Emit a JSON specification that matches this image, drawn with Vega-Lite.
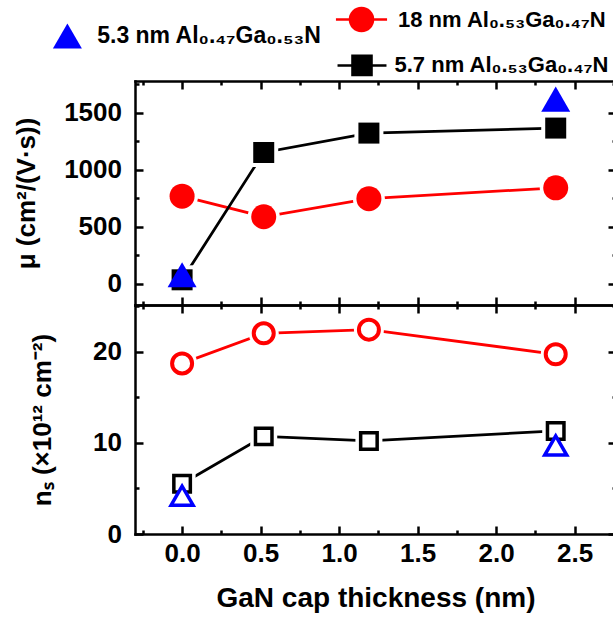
{
  "$schema": "https://vega.github.io/schema/vega-lite/v6.json",
  "background": "white",
  "padding": {"left": 13, "top": 0, "right": 0, "bottom": 4},
  "spacing": 0,
  "bounds": "flush",
  "data": {
    "values": [
      {"panel": "mu", "series": "18 nm Al₀.₅₃Ga₀.₄₇N", "x": 0, "y": 770},
      {"panel": "mu", "series": "18 nm Al₀.₅₃Ga₀.₄₇N", "x": 0.52, "y": 589},
      {"panel": "mu", "series": "18 nm Al₀.₅₃Ga₀.₄₇N", "x": 1.19, "y": 748},
      {"panel": "mu", "series": "18 nm Al₀.₅₃Ga₀.₄₇N", "x": 2.38, "y": 843},
      {"panel": "mu", "series": "5.7 nm Al₀.₅₃Ga₀.₄₇N", "x": 0, "y": 36},
      {"panel": "mu", "series": "5.7 nm Al₀.₅₃Ga₀.₄₇N", "x": 0.52, "y": 1153},
      {"panel": "mu", "series": "5.7 nm Al₀.₅₃Ga₀.₄₇N", "x": 1.19, "y": 1323},
      {"panel": "mu", "series": "5.7 nm Al₀.₅₃Ga₀.₄₇N", "x": 2.38, "y": 1367},
      {"panel": "mu", "series": "5.3 nm Al₀.₄₇Ga₀.₅₃N", "x": 0, "y": 80},
      {"panel": "mu", "series": "5.3 nm Al₀.₄₇Ga₀.₅₃N", "x": 2.38, "y": 1621},
      {"panel": "ns", "series": "18 nm Al₀.₅₃Ga₀.₄₇N", "x": 0, "y": 18.7},
      {"panel": "ns", "series": "18 nm Al₀.₅₃Ga₀.₄₇N", "x": 0.52, "y": 22.0},
      {"panel": "ns", "series": "18 nm Al₀.₅₃Ga₀.₄₇N", "x": 1.19, "y": 22.4},
      {"panel": "ns", "series": "18 nm Al₀.₅₃Ga₀.₄₇N", "x": 2.38, "y": 19.7},
      {"panel": "ns", "series": "5.7 nm Al₀.₅₃Ga₀.₄₇N", "x": 0, "y": 5.5},
      {"panel": "ns", "series": "5.7 nm Al₀.₅₃Ga₀.₄₇N", "x": 0.52, "y": 10.7},
      {"panel": "ns", "series": "5.7 nm Al₀.₅₃Ga₀.₄₇N", "x": 1.19, "y": 10.2},
      {"panel": "ns", "series": "5.7 nm Al₀.₅₃Ga₀.₄₇N", "x": 2.38, "y": 11.3},
      {"panel": "ns", "series": "5.3 nm Al₀.₄₇Ga₀.₅₃N", "x": 0, "y": 4.2},
      {"panel": "ns", "series": "5.3 nm Al₀.₄₇Ga₀.₅₃N", "x": 2.38, "y": 9.7}
    ]
  },
  "vconcat": [
    {
      "width": 481,
      "height": 224,
      "transform": [{"filter": "datum.panel === 'mu'"}],
      "layer": [
        {
          "transform": [{"filter": "indexof(datum.series, '18 nm') === 0"}],
          "mark": {"type": "line", "color": "#ff0000", "strokeWidth": 2.8},
          "encoding": {
            "x": {"field": "x", "type": "quantitative",
              "scale": {"domain": [-0.3, 2.764], "nice": false, "zero": false},
              "axis": {"orient": "bottom", "title": null, "labels": false,
                "values": [-0.25, 0, 0.25, 0.5, 0.75, 1, 1.25, 1.5, 1.75, 2, 2.25, 2.5, 2.75],
                "tickSize": {"condition": {"test": "datum.value % 0.5 === 0", "value": -8}, "value": -4}}},
            "y": {"field": "y", "type": "quantitative",
              "scale": {"domain": [-185, 1780], "nice": false, "zero": false},
              "axis": {"orient": "left", "title": "μ (cm²/(V·s))",
                "values": [0, 250, 500, 750, 1000, 1250, 1500, 1750],
                "labelExpr": "datum.value % 500 === 0 ? format(datum.value, 'd') : ''",
                "tickSize": {"condition": {"test": "datum.value % 500 === 0", "value": -8}, "value": -4},
                "labelPadding": 21.5, "titlePadding": 23.5, "minExtent": 72, "maxExtent": 72}}
          }
        },
        {
          "transform": [{"filter": "indexof(datum.series, '5.7 nm') === 0"}],
          "mark": {"type": "line", "color": "#000000", "strokeWidth": 2.8},
          "encoding": {
            "x": {"field": "x", "type": "quantitative", "axis": null},
            "y": {"field": "y", "type": "quantitative", "axis": null}
          }
        },
        {
          "transform": [{"filter": "indexof(datum.series, '18 nm') === 0"}],
          "mark": {"type": "point", "shape": "circle", "size": 1024, "filled": true, "color": "white", "strokeWidth": 0, "opacity": 1},
          "encoding": {
            "x": {"field": "x", "type": "quantitative", "axis": null},
            "y": {"field": "y", "type": "quantitative", "axis": null}
          }
        },
        {
          "transform": [{"filter": "indexof(datum.series, '5.7 nm') === 0"}],
          "mark": {"type": "point", "shape": "square", "size": 841, "filled": true, "color": "white", "strokeWidth": 0, "opacity": 1},
          "encoding": {
            "x": {"field": "x", "type": "quantitative", "axis": null},
            "y": {"field": "y", "type": "quantitative", "axis": null}
          }
        },
        {
          "transform": [{"filter": "indexof(datum.series, '18 nm') === 0"}],
          "mark": {"type": "point", "shape": "circle", "size": 625, "filled": true, "strokeWidth": 0, "opacity": 1},
          "encoding": {
            "x": {"field": "x", "type": "quantitative", "axis": null},
            "y": {"field": "y", "type": "quantitative", "axis": null},
            "color": {"field": "series", "type": "nominal",
              "scale": {"domain": ["18 nm Al₀.₅₃Ga₀.₄₇N"], "range": ["#ff0000"]},
              "legend": {"orient": "none", "legendX": 207, "legendY": -81, "title": null, "padding": 0,
                "symbolType": "M-1.42,0L-0.64,0M0.64,0L1.42,0M-0.64,0A0.64,0.64,0,1,1,0.64,0A0.64,0.64,0,1,1,-0.64,0Z",
                "symbolSize": 1296, "symbolFillColor": "#ff0000", "symbolStrokeColor": "#ff0000", "symbolStrokeWidth": 2.5, "symbolOpacity": 1,
                "labelOffset": 17, "labelFont": "Liberation Sans", "labelFontSize": 22, "labelFontWeight": "bold", "labelColor": "#000000", "labelLimit": 400}}
          }
        },
        {
          "transform": [{"filter": "indexof(datum.series, '5.7 nm') === 0"}],
          "mark": {"type": "point", "shape": "square", "size": 441, "filled": true, "strokeWidth": 0, "opacity": 1},
          "encoding": {
            "x": {"field": "x", "type": "quantitative", "axis": null},
            "y": {"field": "y", "type": "quantitative", "axis": null},
            "color": {"field": "series", "type": "nominal",
              "scale": {"domain": ["5.7 nm Al₀.₅₃Ga₀.₄₇N"], "range": ["#000000"]},
              "legend": {"orient": "none", "legendX": 207.5, "legendY": -35.1, "title": null, "padding": 0,
                "symbolType": "M-1.36,0L-0.53,0M0.53,0L1.36,0M-0.53,-0.53L0.53,-0.53L0.53,0.53L-0.53,0.53Z",
                "symbolSize": 1296, "symbolFillColor": "#000000", "symbolStrokeColor": "#000000", "symbolStrokeWidth": 2.5, "symbolOpacity": 1,
                "labelOffset": 13, "labelFont": "Liberation Sans", "labelFontSize": 22, "labelFontWeight": "bold", "labelColor": "#000000", "labelLimit": 400}}
          }
        },
        {
          "transform": [{"filter": "indexof(datum.series, '5.3 nm') === 0"}],
          "mark": {"type": "point", "shape": "triangle-up", "size": 841, "filled": true, "strokeWidth": 0, "opacity": 1},
          "encoding": {
            "x": {"field": "x", "type": "quantitative",
              "axis": {"orient": "top", "title": null, "labels": false,
                "values": [-0.25, 0, 0.25, 0.5, 0.75, 1, 1.25, 1.5, 1.75, 2, 2.25, 2.5, 2.75],
                "tickSize": {"condition": {"test": "datum.value % 0.5 === 0", "value": -8}, "value": -4}}},
            "y": {"field": "y", "type": "quantitative",
              "axis": {"orient": "right", "title": null, "labels": false, "domain": false,
                "values": [0, 250, 500, 750, 1000, 1250, 1500, 1750],
                "tickSize": {"condition": {"test": "datum.value % 500 === 0", "value": -8}, "value": -4}}},
            "color": {"field": "series", "type": "nominal",
              "scale": {"domain": ["5.3 nm Al₀.₄₇Ga₀.₅₃N"], "range": ["#0000ff"]},
              "legend": {"orient": "none", "legendX": -82.1, "legendY": -59.5, "title": null, "padding": 0,
                "symbolType": "triangle-up", "symbolSize": 841, "symbolStrokeWidth": 0, "symbolOpacity": 1, "labelOffset": 15.3,
                "labelFont": "Liberation Sans", "labelFontSize": 23, "labelFontWeight": "bold", "labelColor": "#000000", "labelLimit": 400}}
          }
        }
      ],
      "resolve": {
        "scale": {"color": "independent"},
        "axis": {"x": "independent", "y": "independent"}
      }
    },
    {
      "width": 481,
      "height": 229,
      "transform": [{"filter": "datum.panel === 'ns'"}],
      "layer": [
        {
          "transform": [{"filter": "indexof(datum.series, '18 nm') === 0"}],
          "mark": {"type": "line", "color": "#ff0000", "strokeWidth": 2.8},
          "encoding": {
            "x": {"field": "x", "type": "quantitative",
              "scale": {"domain": [-0.3, 2.764], "nice": false, "zero": false},
              "axis": {"orient": "bottom", "title": "GaN cap thickness (nm)",
                "values": [-0.25, 0, 0.25, 0.5, 0.75, 1, 1.25, 1.5, 1.75, 2, 2.25, 2.5, 2.75],
                "labelExpr": "datum.value % 0.5 === 0 ? format(datum.value, '.1f') : ''",
                "tickSize": {"condition": {"test": "datum.value % 0.5 === 0", "value": -8}, "value": -4},
                "labelPadding": 14.5, "titlePadding": 14, "titleFontSize": 28}},
            "y": {"field": "y", "type": "quantitative",
              "scale": {"domain": [0, 25.1], "nice": false, "zero": false},
              "axis": {"orient": "left", "title": "nₛ (×10¹² cm⁻²)",
                "values": [0, 5, 10, 15, 20, 25],
                "labelExpr": "datum.value % 10 === 0 ? format(datum.value, 'd') : ''",
                "tickSize": {"condition": {"test": "datum.value % 10 === 0", "value": -8}, "value": -4},
                "labelPadding": 21.5, "titlePadding": 8, "minExtent": 72, "maxExtent": 72}}
          }
        },
        {
          "transform": [{"filter": "indexof(datum.series, '5.7 nm') === 0"}],
          "mark": {"type": "line", "color": "#000000", "strokeWidth": 2.8},
          "encoding": {
            "x": {"field": "x", "type": "quantitative", "axis": null},
            "y": {"field": "y", "type": "quantitative", "axis": null}
          }
        },
        {
          "transform": [{"filter": "indexof(datum.series, '18 nm') === 0"}],
          "mark": {"type": "point", "shape": "circle", "size": 900, "filled": true, "color": "white", "strokeWidth": 0, "opacity": 1},
          "encoding": {
            "x": {"field": "x", "type": "quantitative", "axis": null},
            "y": {"field": "y", "type": "quantitative", "axis": null}
          }
        },
        {
          "transform": [{"filter": "indexof(datum.series, '5.7 nm') === 0"}],
          "mark": {"type": "point", "shape": "square", "size": 729, "filled": true, "color": "white", "strokeWidth": 0, "opacity": 1},
          "encoding": {
            "x": {"field": "x", "type": "quantitative", "axis": null},
            "y": {"field": "y", "type": "quantitative", "axis": null}
          }
        },
        {
          "transform": [{"filter": "indexof(datum.series, '18 nm') === 0"}],
          "mark": {"type": "point", "shape": "circle", "size": 400, "fill": "white", "stroke": "#ff0000", "strokeWidth": 4, "opacity": 1},
          "encoding": {
            "x": {"field": "x", "type": "quantitative", "axis": null},
            "y": {"field": "y", "type": "quantitative", "axis": null}
          }
        },
        {
          "transform": [{"filter": "indexof(datum.series, '5.7 nm') === 0"}],
          "mark": {"type": "point", "shape": "square", "size": 272, "fill": "white", "stroke": "#000000", "strokeWidth": 3.5, "opacity": 1},
          "encoding": {
            "x": {"field": "x", "type": "quantitative", "axis": null},
            "y": {"field": "y", "type": "quantitative", "axis": null}
          }
        },
        {
          "transform": [{"filter": "indexof(datum.series, '5.3 nm') === 0"}],
          "mark": {"type": "point", "shape": "triangle-up", "size": 484, "fill": "white", "stroke": "#0000ff", "strokeWidth": 3.5, "opacity": 1},
          "encoding": {
            "x": {"field": "x", "type": "quantitative",
              "axis": {"orient": "top", "title": null, "labels": false,
                "values": [-0.25, 0, 0.25, 0.5, 0.75, 1, 1.25, 1.5, 1.75, 2, 2.25, 2.5, 2.75],
                "tickSize": {"condition": {"test": "datum.value % 0.5 === 0", "value": -8}, "value": -4}}},
            "y": {"field": "y", "type": "quantitative",
              "axis": {"orient": "right", "title": null, "labels": false, "domain": false,
                "values": [0, 5, 10, 15, 20, 25],
                "tickSize": {"condition": {"test": "datum.value % 10 === 0", "value": -8}, "value": -4}}}
          }
        }
      ],
      "resolve": {"axis": {"x": "independent", "y": "independent"}}
    }
  ],
  "config": {
    "view": {"stroke": null},
    "font": "Liberation Sans",
    "axis": {
      "domainColor": "#000000", "domainWidth": 2.5, "domainCap": "square",
      "tickColor": "#000000", "tickWidth": 2.5, "grid": false,
      "labelFont": "Liberation Sans", "labelFontSize": 26, "labelFontWeight": "bold", "labelColor": "#000000",
      "titleFont": "Liberation Sans", "titleFontSize": 26, "titleFontWeight": "bold", "titleColor": "#000000",
      "labelOverlap": false, "labelFlush": false, "labelBound": false
    }
  }
}
